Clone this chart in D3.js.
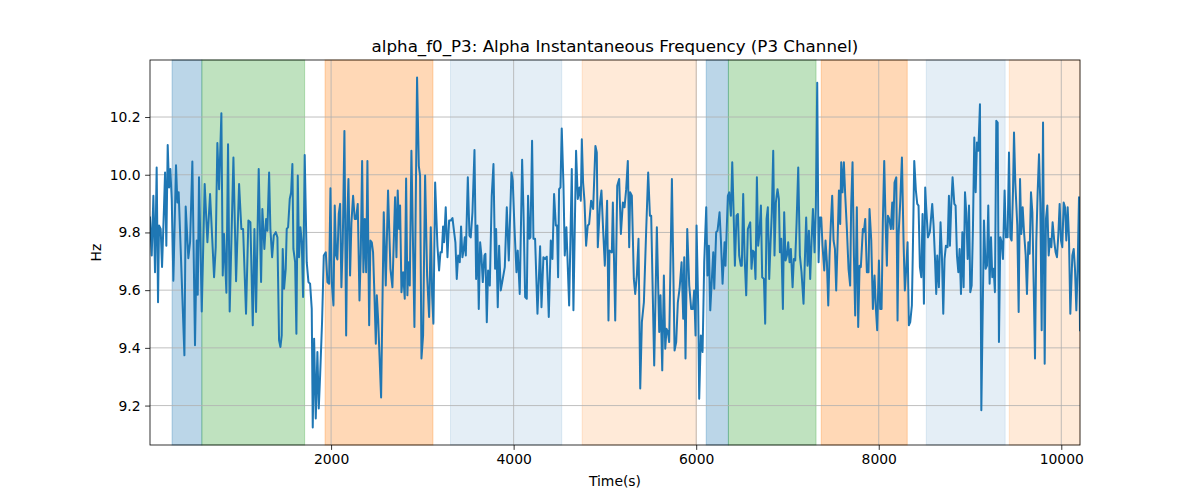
<!DOCTYPE html>
<html>
<head>
<meta charset="utf-8">
<script src="https://cdn.jsdelivr.net/npm/d3@7"></script>
<style>
  body { margin: 0; background: #fff; }
  svg { display: block; font-family: "DejaVu Sans", sans-serif; }
</style>
</head>
<body>
<svg id="chart" width="1200" height="500"></svg>
<script>
const title = "alpha_f0_P3: Alpha Instantaneous Frequency (P3 Channel)";
const xLabel = "Time(s)";
const yLabel = "Hz";
const xTicks = [2000, 4000, 6000, 8000, 10000];
const yTicks = [9.2, 9.4, 9.6, 9.8, 10.0, 10.2];

const times = [16,35,53,71,89,104,115,133,148,170,181,195,210,225,239,254,272,301,316,330,352,393,407,436,455,480,509,528,539,553,568,583,615,645,674,718,736,754,773,798,813,827,853,871,889,930,959,992,1017,1036,1068,1094,1116,1142,1160,1178,1207,1233,1247,1269,
1288,1302,1321,1335,1354,1372,1394,1412,1430,1445,1459,1470,1485,1503,1514,1529,1547,1562,1576,1587,1606,1620,1635,1649,1664,1679,1693,1711,1733,1752,1770,1788,1799,1814,1832,1850,1865,1880,1901,1920,1942,1960,1978,1993,2007,2026,2040,2055,2069,2084,2099,2113,2128,2146,2165,2179,2190,2208,2223,2241,2259,2274,2292,2311,2325,2340,2354,2369,2384,2398,2417,2431,2446,2460,2475,2490,2501,2515,
2548,2577,2599,2624,2650,2672,2701,2716,2730,2745,2756,2771,2789,2807,2822,2836,2847,2862,2880,2913,2942,2961,2975,2990,3008,3030,3052,3074,3092,3107,3121,3140,3165,3183,3198,3213,3227,3238,3256,3275,3293,3311,3330,3348,3362,3377,3392,3410,3424,3439,3454,3465,3476,3498,3516,3530,3549,3571,3589,3603,3618,3633,3647,3662,3680,3691,3706,3720,3739,3760,3779,
3797,3808,3826,3841,3859,3881,3903,3925,3947,3976,3990,4009,4031,4045,4067,4093,4107,4126,4144,4158,4173,4184,4202,4217,4235,4261,4290,4305,4326,4345,4363,4385,4407,4425,4443,4462,4476,4487,4498,4513,4527,4546,4560,4578,4608,4637,4655,4684,4703,4721,4736,4747,4761,4776,4794,4812,4827,4849,4871,4896,4911,4922,4947,4962,4980,4999,5024,5039,5050,
5076,5087,5113,5135,5156,5175,5197,5215,5233,5251,5266,5277,5295,5317,5332,5350,5368,5387,5405,5427,5452,5474,5493,5507,5540,5569,5595,5609,5628,5646,5661,5675,5690,5704,5734,5763,5781,5799,5818,5840,5858,5869,5883,5902,5924,5945,5964,5978,5993,6004,6022,6033,6051,6070,6088,6110,6124,6139,6154,6168,6187,6198,6219,6234,6256,6271,6289,6311,
6321,6347,6362,6380,6395,6409,6424,6442,6457,6471,6489,6500,6515,6530,6548,6566,6592,6606,6621,6636,6650,6665,6679,6694,6709,6723,6742,6756,6771,6785,6800,6815,6829,6844,6858,6873,6891,6906,6917,6932,6950,6964,6979,6994,7008,7023,7037,7056,7070,7085,7100,7118,7136,7154,7176,7205,7220,7235,7249,7264,7279,7297,7311,7326,7341,7355,7370,7384,7403,7417,7432,7447,7461,7476,7490,7505,7520,7534,7549,7564,
7578,7589,7603,7618,7633,7651,7669,7687,7698,7713,7728,7742,7760,7775,7790,7804,7826,7837,7852,7870,7888,7899,7918,7936,7954,7969,7983,8002,8016,8031,8045,8060,8075,8089,8100,8115,8133,8148,8159,8173,8192,8206,8217,8235,8254,8272,8286,8301,8316,8330,8345,8363,8374,8389,8407,8422,8436,8451,8466,8480,8495,8509,8520,8539,8560,8586,8601,8615,8630,8641,8659,8677,8692,8707,8721,8736,8754,8769,8780,8794,8809,
8828,8842,8857,8872,8886,8901,8916,8930,8945,8959,8974,8989,9003,9018,9032,9047,9062,9076,9091,9109,9124,9153,9171,9186,9200,9215,9230,9244,9259,9273,9288,9303,9317,9332,9347,9361,9379,9394,9412,9427,9442,9456,9471,9482,9496,9518,9533,9548,9562,9577,9591,9610,9624,9639,9653,9668,9683,9697,9712,9726,9741,9756,9770,9785,9800,9818,9832,9847,9862,9876,9891,9905,9924,9938,9953,9968,9982,9997,10011,10026,10041,10055,10070,10084,10099,10121,10136,10150,10165,10179,10194,10205];

const hz = [9.852,9.720,9.927,9.662,10.025,9.558,9.824,9.812,9.680,9.893,10.008,9.754,10.103,9.956,10.020,9.916,9.633,10.033,9.904,9.939,9.743,9.374,9.890,9.711,9.766,10.046,9.409,9.772,9.584,9.991,9.766,9.526,9.968,9.766,9.933,9.645,9.749,10.110,9.950,10.213,9.651,9.795,9.591,10.106,9.526,10.060,9.631,9.968,9.812,9.812,9.518,9.841,9.835,9.478,9.812,9.524,10.020,9.628,9.881,9.743,
9.847,9.806,10.008,9.812,9.714,9.789,9.801,9.783,9.426,9.403,9.443,9.743,9.605,9.674,9.812,9.818,9.916,9.939,10.037,9.743,9.697,9.449,9.997,9.714,9.818,9.766,9.576,10.068,9.697,9.628,9.622,9.535,9.124,9.432,9.155,9.386,9.190,9.305,9.489,9.720,9.731,9.628,9.622,9.953,9.628,9.547,9.893,9.720,9.706,9.864,9.899,9.610,9.766,10.152,9.443,9.858,9.985,9.651,9.835,9.927,9.847,9.847,9.899,9.564,9.726,10.048,9.662,9.847,9.662,10.048,9.478,9.772,9.766,9.731,9.582,9.414,9.582,9.501,
9.228,9.870,9.616,9.945,9.674,9.610,9.922,9.714,9.945,9.812,9.893,9.593,9.662,9.570,9.987,9.582,9.697,9.616,10.083,9.472,10.337,10.031,9.997,9.363,9.443,9.997,9.651,9.507,9.818,9.582,9.484,9.973,9.754,9.668,9.731,9.731,9.821,9.766,9.887,9.714,9.841,9.841,9.850,9.801,9.766,9.639,9.720,9.697,9.821,9.714,9.743,9.783,9.720,9.991,9.789,9.783,9.870,10.086,9.639,9.824,9.535,9.766,9.720,9.628,9.720,9.726,9.489,9.668,9.616,9.927,10.037,
9.674,9.812,9.541,9.754,9.599,9.639,9.680,9.887,9.703,10.008,9.979,9.818,9.662,9.737,9.587,10.052,9.887,9.576,9.570,9.927,9.778,9.783,10.118,9.778,9.778,9.518,9.752,9.541,9.714,9.708,9.716,9.507,9.772,9.708,9.933,9.824,9.824,9.645,9.950,9.956,10.160,9.962,9.720,9.818,9.547,10.020,9.530,10.083,9.916,9.956,9.910,10.123,9.973,9.910,9.754,9.824,9.829,9.910,9.881,10.100,10.077,9.749,9.904,9.945,9.812,9.685,9.910,9.495,9.737,
9.731,9.904,9.495,9.962,9.985,9.795,9.904,9.887,9.950,10.048,9.749,9.939,9.927,9.639,9.587,9.651,9.778,9.259,9.489,9.558,9.806,10.008,9.858,9.858,9.339,9.818,9.455,9.582,9.322,9.651,9.397,9.466,9.455,9.420,9.985,9.391,9.420,9.558,9.605,9.697,9.501,9.714,9.363,9.812,9.616,9.535,9.535,9.599,9.443,9.824,9.547,9.224,9.443,9.386,9.697,9.887,9.651,9.754,9.530,9.616,9.731,9.605,9.801,9.806,9.870,9.772,9.622,9.766,
9.685,9.927,9.939,9.858,10.043,9.881,9.685,9.858,9.864,9.720,9.685,9.685,9.933,9.720,9.582,9.812,9.835,9.674,9.737,9.731,9.639,9.991,9.754,9.801,9.893,9.645,9.639,9.484,9.847,9.887,9.639,9.766,9.870,10.083,9.720,9.904,9.950,9.916,9.731,9.778,9.535,9.870,9.703,9.720,9.766,9.697,9.743,9.610,9.708,9.703,9.835,10.025,9.720,9.662,9.553,9.852,9.685,9.806,9.639,9.772,9.881,9.731,9.887,10.319,9.697,9.852,9.852,9.754,9.668,9.772,9.697,9.547,9.720,9.835,9.927,9.772,9.743,9.599,9.766,9.945,
9.829,10.043,9.939,10.043,9.927,9.812,9.674,9.616,9.893,10.043,9.720,9.512,9.887,9.472,9.685,9.680,9.812,9.801,9.847,9.662,9.662,9.881,9.772,9.535,9.651,9.535,9.461,9.703,9.535,9.535,9.835,10.048,9.835,9.685,9.858,9.847,9.812,9.904,9.812,9.973,9.991,9.495,9.789,9.904,10.060,9.766,9.599,9.674,9.766,9.478,9.489,9.547,9.743,10.048,9.945,9.899,9.893,9.680,9.645,9.864,9.553,9.956,9.887,9.783,9.801,9.899,9.824,9.720,9.587,9.720,9.610,9.835,9.720,9.518,9.708,9.754,9.749,9.927,9.754,9.893,9.991,
9.899,9.893,9.720,9.662,9.743,9.587,9.801,9.610,9.939,9.870,9.708,9.893,9.593,9.616,9.812,10.129,9.939,10.112,10.083,10.244,9.184,9.841,9.674,9.685,9.893,9.622,9.783,9.645,9.674,9.593,10.187,10.181,9.420,9.783,9.766,9.708,9.945,9.783,9.783,10.077,9.783,9.772,9.945,10.146,9.973,9.824,9.524,9.985,9.795,9.887,9.806,9.720,9.587,9.766,9.726,9.939,9.870,9.628,9.363,9.766,9.939,10.071,9.904,9.461,10.181,9.345,9.847,9.893,9.720,9.778,9.749,9.835,9.766,9.731,9.714,9.795,9.899,9.772,9.749,9.904,9.887,9.772,9.887,9.783,9.518,9.720,9.743,9.674,9.530,9.674,9.922,9.461];

// Shaded periods: start time, end time, kind
const spanStarts = [258, 584, 1934, 3308, 4751, 6110, 6353, 7370, 8521, 9430];
const spanEnds   = [584, 1710, 3116, 4527, 6003, 6353, 7313, 8312, 9385, 10205];
const spanKinds  = ["blue", "green", "orange", "lightblue", "lightorange", "blue", "green", "orange", "lightblue", "lightorange"];

const kindColor = {
  blue:        ["#1f77b4", 0.3],
  green:       ["#2ca02c", 0.3],
  orange:      ["#ff7f0e", 0.3],
  lightblue:   ["#1f77b4", 0.12],
  lightorange: ["#ff7f0e", 0.16]
};

const W = 1200, H = 500;
const m = { left: 150, right: 120, top: 60, bottom: 55 };
const iw = W - m.left - m.right, ih = H - m.top - m.bottom;

const svg = d3.select("#chart");
const g = svg.append("g").attr("transform", `translate(${m.left},${m.top})`);

const data = times.map((t, i) => ({ t, v: hz[i] }));

const x = d3.scaleLinear().domain(d3.extent(times)).range([0, iw]);
const [ymin, ymax] = d3.extent(hz);
const pad = (ymax - ymin) * 0.05;
const y = d3.scaleLinear().domain([ymin - pad, ymax + pad]).range([ih, 0]);

// spans
const spans = spanStarts.map((s, i) => ({ s, e: spanEnds[i], k: spanKinds[i] }));
g.append("g").selectAll("rect").data(spans).join("rect")
  .attr("x", d => x(d.s))
  .attr("y", 0)
  .attr("width", d => x(d.e) - x(d.s))
  .attr("height", ih)
  .attr("fill", d => kindColor[d.k][0])
  .attr("fill-opacity", d => kindColor[d.k][1])
  .attr("stroke", d => kindColor[d.k][0])
  .attr("stroke-opacity", d => kindColor[d.k][1])
  .attr("stroke-width", 1);

// grid
const grid = g.append("g");
grid.selectAll(".gx").data(xTicks).join("line")
  .attr("x1", d => x(d)).attr("x2", d => x(d))
  .attr("y1", 0).attr("y2", ih)
  .attr("stroke", "#b0b0b0").attr("stroke-width", 0.8);
grid.selectAll(".gy").data(yTicks).join("line")
  .attr("x1", 0).attr("x2", iw)
  .attr("y1", d => y(d)).attr("y2", d => y(d))
  .attr("stroke", "#b0b0b0").attr("stroke-width", 0.8);

// line
const clip = svg.append("defs").append("clipPath").attr("id", "clip")
  .append("rect").attr("width", iw).attr("height", ih);
g.append("path")
  .datum(data)
  .attr("clip-path", "url(#clip)")
  .attr("fill", "none")
  .attr("stroke", "#1f77b4")
  .attr("stroke-width", 2)
  .attr("stroke-linejoin", "round")
  .attr("stroke-linecap", "square")
  .attr("d", d3.line().x(d => x(d.t)).y(d => y(d.v)));

// axes
const xAxis = g.append("g").attr("transform", `translate(0,${ih})`)
  .call(d3.axisBottom(x).tickValues(xTicks).tickFormat(d3.format("d")).tickSize(4.9).tickPadding(4.5));
const yAxis = g.append("g")
  .call(d3.axisLeft(y).tickValues(yTicks).tickFormat(d3.format(".1f")).tickSize(4.9).tickPadding(4.5));
[xAxis, yAxis].forEach(a => {
  a.select(".domain").remove();
  a.selectAll(".tick line").attr("stroke", "#000").attr("stroke-width", 0.8);
  a.selectAll(".tick text").attr("font-size", "13.9px").attr("fill", "#000")
    .attr("font-family", "DejaVu Sans, sans-serif");
});

// frame
g.append("rect").attr("width", iw).attr("height", ih)
  .attr("fill", "none").attr("stroke", "#000").attr("stroke-width", 0.8);

// labels
svg.append("text").attr("x", m.left + iw / 2).attr("y", m.top - 8.5)
  .attr("text-anchor", "middle").attr("font-size", "16.7px").text(title);
svg.append("text").attr("x", m.left + iw / 2).attr("y", 486)
  .attr("text-anchor", "middle").attr("font-size", "13.9px").text(xLabel);
svg.append("text")
  .attr("transform", `translate(101,${m.top + ih / 2}) rotate(-90)`)
  .attr("text-anchor", "middle").attr("font-size", "13.9px").text(yLabel);
</script>
</body>
</html>
